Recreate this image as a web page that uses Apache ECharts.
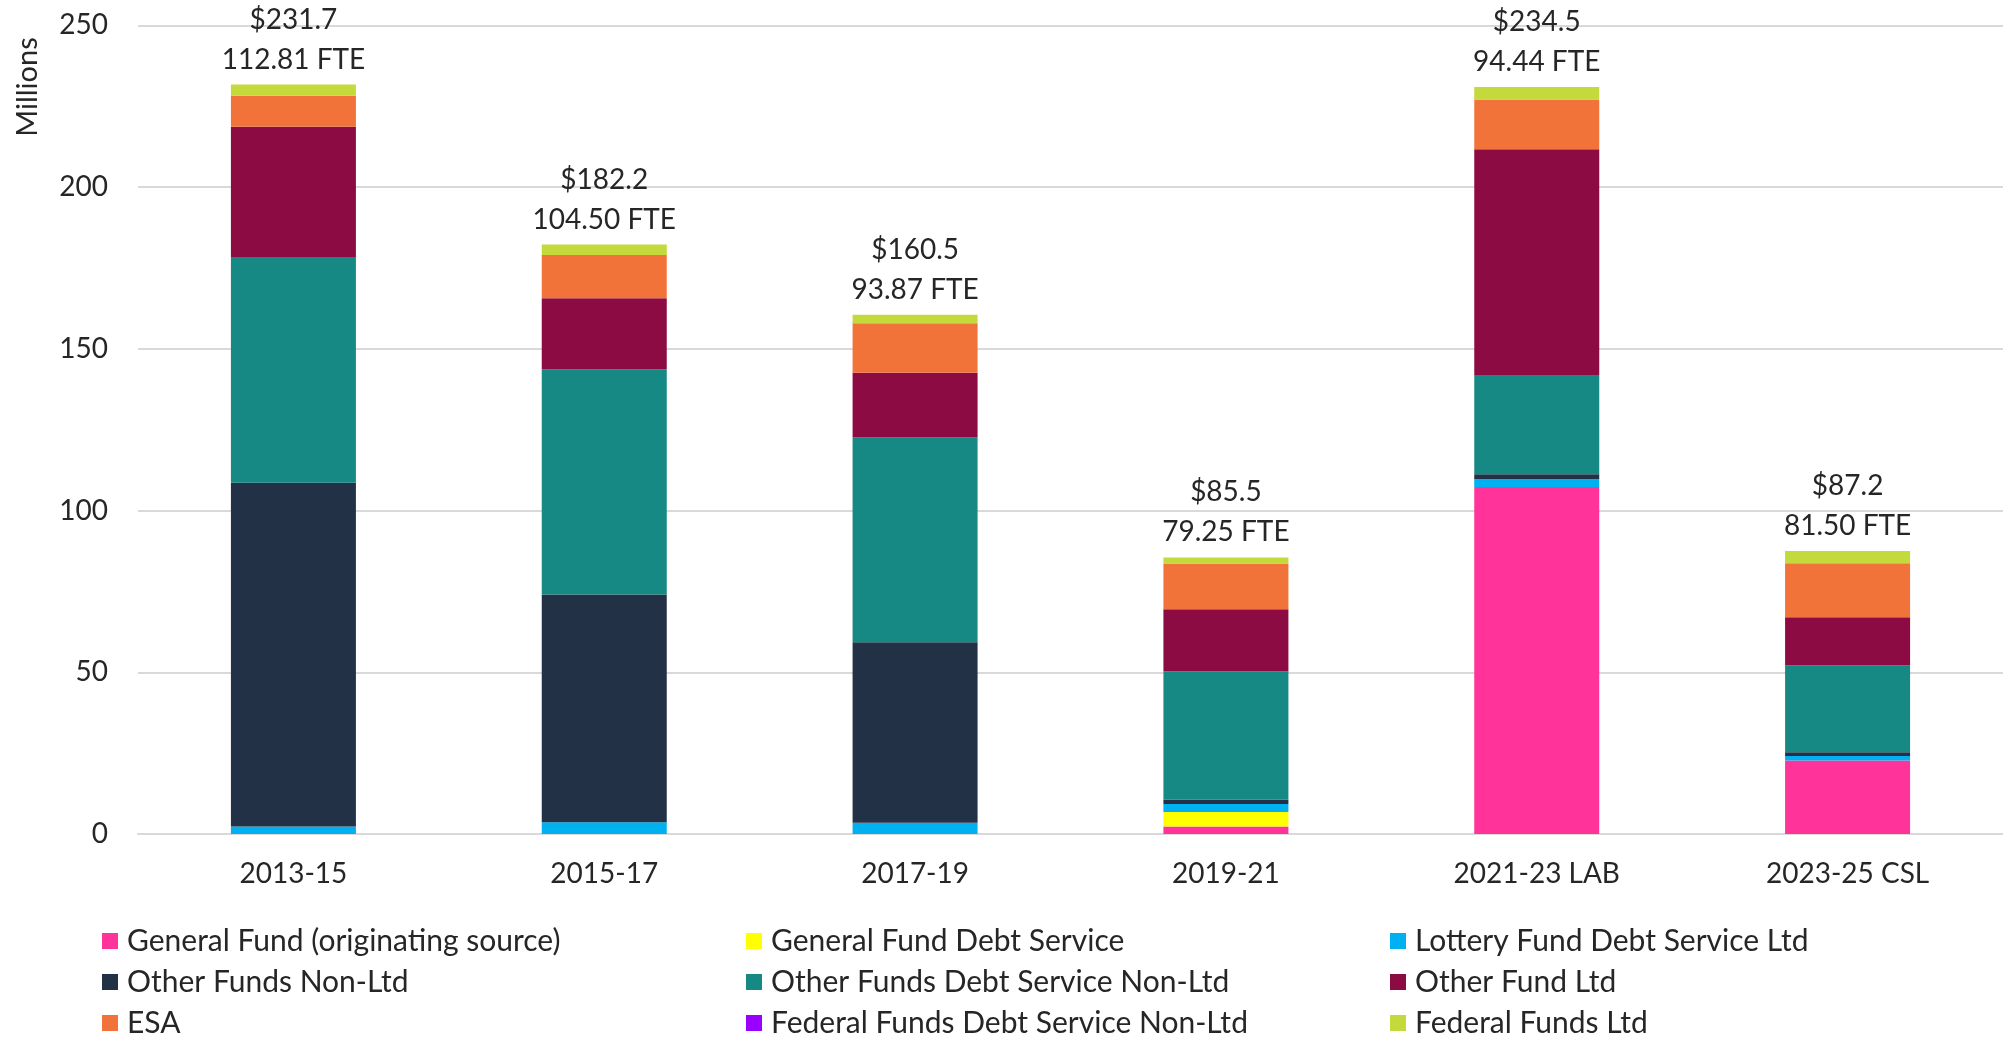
<!DOCTYPE html>
<html>
<head>
<meta charset="utf-8">
<script src="https://cdn.jsdelivr.net/npm/echarts@6/dist/echarts.min.js"></script>
<style>
html,body{margin:0;padding:0;background:#fff;}
#c{width:2003px;height:1038px;}
</style>
</head>
<body>
<div id="c"></div>
<script>
const categories = ['2013-15', '2015-17', '2017-19', '2019-21', '2021-23 LAB', '2023-25 CSL'];
const generalFund      = [0, 0, 0, 2.3, 107.3, 22.7];
const gfDebtService    = [0, 0, 0, 4.5, 0, 0];
const lotteryDebt      = [2.3, 3.6, 3.5, 2.5, 2.4, 1.4];
const otherNonLtd      = [106.3, 70.4, 55.8, 1.4, 1.5, 1.2];
const otherDebtNonLtd  = [69.8, 69.7, 63.3, 39.6, 30.7, 26.9];
const otherFundLtd     = [40.2, 21.9, 20.0, 19.2, 69.8, 14.8];
const esa              = [9.6, 13.4, 15.3, 14.1, 15.4, 16.7];
const fedDebtNonLtd    = [0, 0, 0, 0, 0, 0];
const fedLtd           = [3.5, 3.2, 2.6, 1.9, 3.8, 3.8];
const totalLabels = ['$231.7', '$182.2', '$160.5', '$85.5', '$234.5', '$87.2'];
const fteLabels   = ['112.81 FTE', '104.50 FTE', '93.87 FTE', '79.25 FTE', '94.44 FTE', '81.50 FTE'];
const yTicks = [0, 50, 100, 150, 200, 250];

const FONT = 'Lato';
const TXT = '#262626';

const seriesDefs = [
  ['General Fund (originating source)', generalFund, '#FF3399'],
  ['General Fund Debt Service', gfDebtService, '#FFFF00'],
  ['Lottery Fund Debt Service Ltd', lotteryDebt, '#00B0F0'],
  ['Other Funds Non-Ltd', otherNonLtd, '#233147'],
  ['Other Funds Debt Service Non-Ltd', otherDebtNonLtd, '#178984'],
  ['Other Fund Ltd', otherFundLtd, '#8C0B42'],
  ['ESA', esa, '#F2733A'],
  ['Federal Funds Debt Service Non-Ltd', fedDebtNonLtd, '#9900FF'],
  ['Federal Funds Ltd', fedLtd, '#C4D93B']
];

const series = seriesDefs.map((d, i) => {
  const s = {
    name: d[0], type: 'bar', stack: 'total', data: d[1], barWidth: 125,
    itemStyle: { color: d[2] }, emphasis: { disabled: true }
  };
  if (i === seriesDefs.length - 1) {
    s.label = {
      show: true, position: 'top', distance: 5,
      fontFamily: FONT, fontSize: 28, color: TXT, lineHeight: 40,
      formatter: p => totalLabels[p.dataIndex] + '\n' + fteLabels[p.dataIndex]
    };
  }
  return s;
});

const legendBase = {
  orient: 'vertical', top: 926, height: 112, padding: 0,
  itemWidth: 16, itemHeight: 16, itemGap: 11,
  icon: 'rect', selectedMode: false,
  textStyle: { fontFamily: FONT, fontSize: 30, lineHeight: 30, color: TXT, padding: [0, 0, 0, 4] }
};
const names = seriesDefs.map(d => d[0]);

const chart = echarts.init(document.getElementById('c'));
chart.setOption({
  animation: false,
  backgroundColor: '#fff',
  grid: { left: 138, right: 0, top: 25.3, bottom: 204, containLabel: false },
  legend: [
    Object.assign({}, legendBase, { left: 102, data: [names[0], names[3], names[6]] }),
    Object.assign({}, legendBase, { left: 746, data: [names[1], names[4], names[7]] }),
    Object.assign({}, legendBase, { left: 1390, data: [names[2], names[5], names[8]] })
  ],
  graphic: [{
    type: 'text', x: 28, y: 87, rotation: Math.PI / 2,
    style: { text: 'Millions', fontFamily: FONT, fontSize: 29, fill: TXT, align: 'center', verticalAlign: 'middle' }
  }],
  xAxis: {
    type: 'category', data: categories,
    axisLine: { show: true, lineStyle: { color: '#D9D9D9', width: 2 } },
    axisTick: { show: false },
    axisLabel: { fontFamily: FONT, fontSize: 28, color: TXT, margin: 26 }
  },
  yAxis: {
    type: 'value', min: yTicks[0], max: yTicks[yTicks.length - 1], interval: 50,
    axisLine: { show: false }, axisTick: { show: false },
    splitLine: { lineStyle: { color: '#D9D9D9', width: 2 } },
    axisLabel: { fontFamily: FONT, fontSize: 28, color: TXT, margin: 30 }
  },
  series: series
});
</script>
</body>
</html>
